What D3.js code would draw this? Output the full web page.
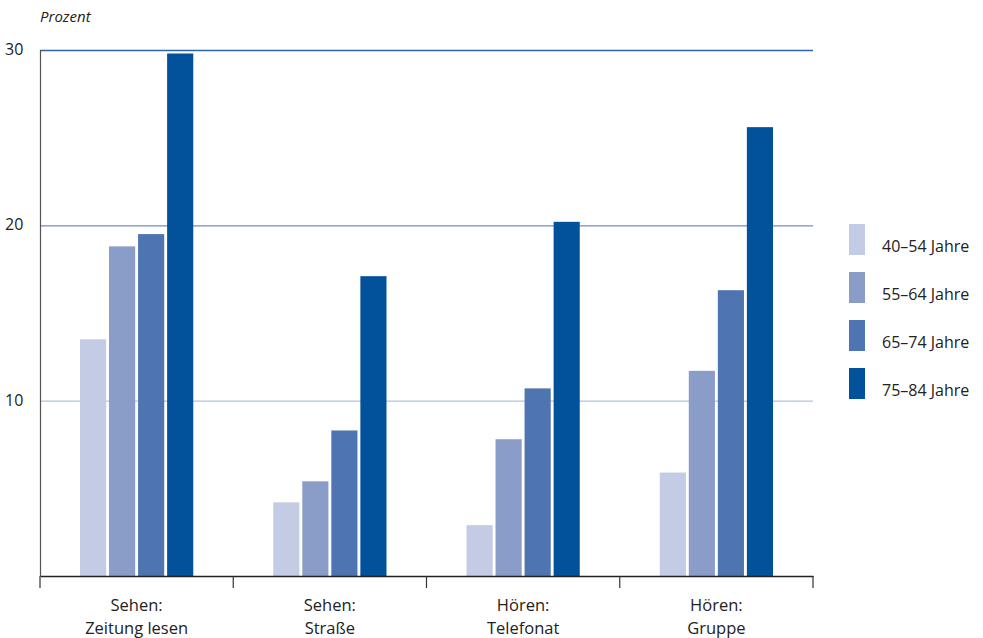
<!DOCTYPE html>
<html>
<head>
<meta charset="utf-8">
<script src="https://cdn.jsdelivr.net/npm/d3@7"></script>
<style>
  body { margin: 0; background: #fff; }
  svg text { font-family: "Open Sans", "DejaVu Sans", sans-serif; fill: #222; }
</style>
</head>
<body>
<svg id="chart" width="983" height="638"></svg>
<script>
// data
const categories = [['Sehen:', 'Zeitung lesen'], ['Sehen:', 'Straße'], ['Hören:', 'Telefonat'], ['Hören:', 'Gruppe']];
const seriesNames = ['40–54 Jahre', '55–64 Jahre', '65–74 Jahre', '75–84 Jahre'];
const seriesColors = ['#c3cbe5', '#8a9dc9', '#4e74b2', '#02519b'];
const values = [
  [13.5, 18.8, 19.5, 29.8],
  [4.2, 5.4, 8.3, 17.1],
  [2.9, 7.8, 10.7, 20.2],
  [5.9, 11.7, 16.3, 25.6]
];
const yTicks = [10, 20, 30];
const gridColors = ['#b3c3e2', '#6e8cc2', '#2f64a6'];

const svg = d3.select('#chart');
const plot = { left: 40, right: 813, top: 50, bottom: 576 };

const x = d3.scaleBand().domain(d3.range(categories.length)).range([plot.left, plot.right]);
const x1 = d3.scaleBand().domain(d3.range(seriesNames.length))
  .range([40, x.bandwidth() - 40]).paddingInner(0.1);
const y = d3.scaleLinear().domain([0, 30]).range([plot.bottom, plot.top]);

// gridlines
svg.append('g').selectAll('line')
  .data(yTicks)
  .enter()
  .append('line')
  .attr('x1', plot.left).attr('x2', plot.right)
  .attr('y1', (d) => y(d) + 0.5).attr('y2', (d) => y(d) + 0.5)
  .attr('stroke', (d, i) => gridColors[i])
  .attr('stroke-width', 1.3);

// y tick labels
svg.append('g').selectAll('text')
  .data(yTicks)
  .enter()
  .append('text')
  .attr('x', 5).attr('y', (d) => y(d) + 5)
  .attr('font-size', 16)
  .text((d) => d);

svg.append('text')
  .attr('x', 40).attr('y', 22)
  .attr('font-size', 15)
  .attr('font-style', 'italic')
  .text('Prozent');

// bars
const groups = svg.append('g').selectAll('g')
  .data(values)
  .enter()
  .append('g')
  .attr('transform', (d, i) => `translate(${x(i)},0)`);

groups.selectAll('rect')
  .data((d) => d)
  .enter()
  .append('rect')
  .attr('x', (d, j) => x1(j))
  .attr('width', x1.bandwidth())
  .attr('y', (d) => y(d))
  .attr('height', (d) => y(0) - y(d))
  .attr('fill', (d, j) => seriesColors[j]);

// axes
svg.append('line')
  .attr('x1', plot.left + 0.5).attr('x2', plot.left + 0.5)
  .attr('y1', plot.top).attr('y2', plot.bottom)
  .attr('stroke', '#555').attr('stroke-width', 1.2);

const xAxis = d3.axisBottom(x).tickFormat('').tickSize(0);
const gx = svg.append('g').attr('transform', `translate(0,${plot.bottom})`).call(xAxis);
gx.select('.domain').attr('stroke', '#222').attr('stroke-width', 1.5);

svg.append('g').selectAll('line')
  .data(d3.range(categories.length + 1))
  .enter()
  .append('line')
  .attr('x1', (d) => plot.left + d * x.bandwidth())
  .attr('x2', (d) => plot.left + d * x.bandwidth())
  .attr('y1', plot.bottom).attr('y2', plot.bottom + 12)
  .attr('stroke', '#333').attr('stroke-width', 1.2);

// category labels
const labels = svg.append('g').selectAll('text')
  .data(categories)
  .enter()
  .append('text')
  .attr('text-anchor', 'middle')
  .attr('font-size', 16.5)
  .attr('x', (d, i) => x(i) + x.bandwidth() / 2);
labels.append('tspan').attr('y', 611).text((d) => d[0]);
labels.append('tspan').attr('y', 634)
  .attr('x', (d, i) => x(i) + x.bandwidth() / 2)
  .text((d) => d[1]);

// legend
const legend = svg.append('g').selectAll('g')
  .data(seriesNames)
  .enter()
  .append('g')
  .attr('transform', (d, i) => `translate(849,${224 + i * 48})`);
legend.append('rect')
  .attr('width', 16).attr('height', 31)
  .attr('fill', (d, i) => seriesColors[i]);
legend.append('text')
  .attr('x', 33).attr('y', 28)
  .attr('font-size', 16)
  .text((d) => d);
</script>
</body>
</html>
